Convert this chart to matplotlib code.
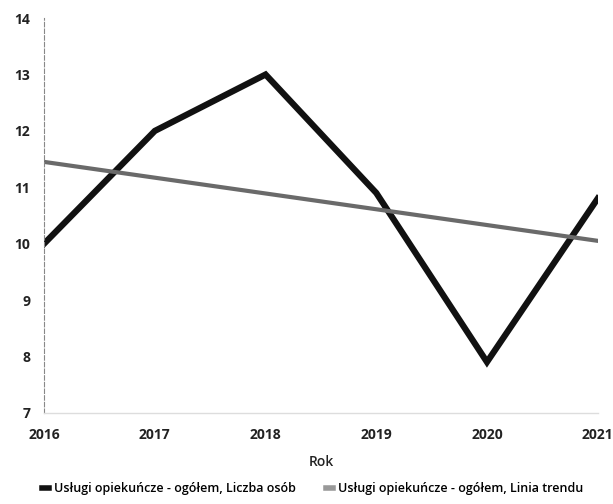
import matplotlib.pyplot as plt
from matplotlib.lines import Line2D

years = [2016, 2017, 2018, 2019, 2020, 2021]
liczba_osob = [10.0, 12.0, 13.0, 10.9, 7.9, 10.8]
linia_trendu = [11.45, 11.17, 10.89, 10.61, 10.33, 10.05]

plt.rcParams['font.family'] = ['Open Sans', 'DejaVu Sans']

fig = plt.figure(figsize=(6.13, 5.04), dpi=100)
ax = fig.add_axes([0.072, 0.181, 0.903, 0.783])

ax.plot(years, liczba_osob, color='#111111', lw=4.5, solid_joinstyle='miter')
ax.plot(years, linia_trendu, color='#6a6a6a', lw=3)

ax.set_xlim(2016, 2021)
ax.set_ylim(7, 14)
ax.set_yticks(range(7, 15))
ax.set_xticks(years)

for s in ['top', 'right']:
    ax.spines[s].set_visible(False)
ax.spines['left'].set_color('#888888')
ax.spines['left'].set_linestyle((0, (4, 2)))
ax.spines['left'].set_linewidth(0.8)
ax.spines['bottom'].set_color('#dddddd')
ax.spines['bottom'].set_linewidth(1)

ax.tick_params(length=0, labelsize=10)
ax.tick_params(axis='x', pad=11)
ax.tick_params(axis='y', pad=10)
for lbl in ax.get_xticklabels() + ax.get_yticklabels():
    lbl.set_fontweight('bold')
    lbl.set_color('#222222')

ax.set_xlabel('Rok', fontsize=10, color='#222222', labelpad=9,
              fontweight='semibold')

handles = [
    Line2D([], [], color='#111111', lw=4),
    Line2D([], [], color='#999999', lw=4),
]
fig.legend(handles, ['Usługi opiekuńcze - ogółem, Liczba osób',
                     'Usługi opiekuńcze - ogółem, Linia trendu'],
           loc='lower center', bbox_to_anchor=(0.51, -0.005), ncol=2,
           frameon=False, handlelength=0.6,
           handletextpad=0.4, columnspacing=2.4,
           prop={'weight': 'semibold', 'size': 9})

fig.savefig('out.png', dpi=100)
